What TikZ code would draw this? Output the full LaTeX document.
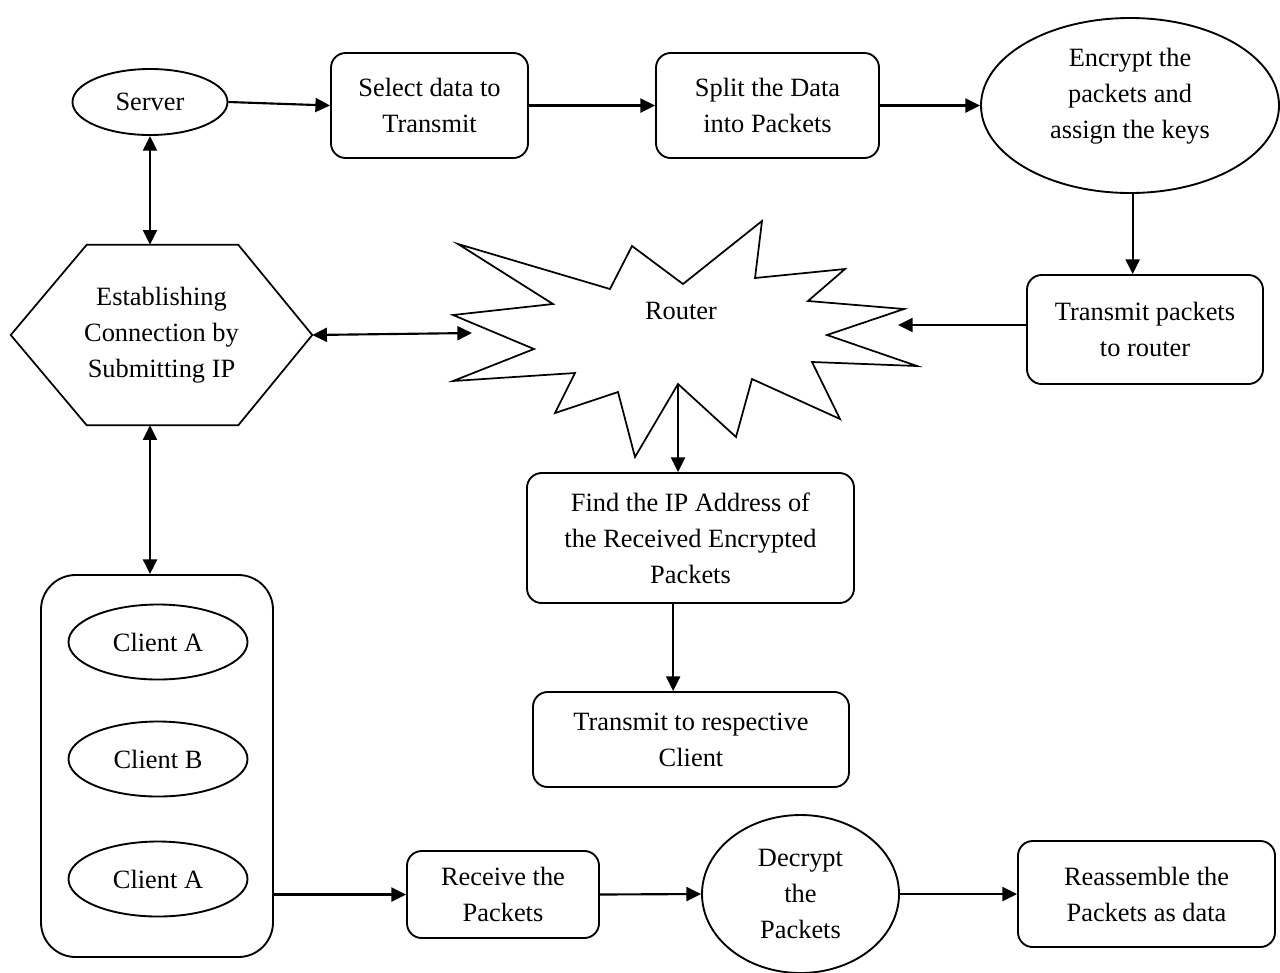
\documentclass[tikz,border=0pt]{standalone}
\usepackage{fontspec}
\setmainfont{Liberation Serif}
\usetikzlibrary{arrows.meta,shapes.geometric}
\begin{document}
\begin{tikzpicture}[x=0.75pt,y=-0.75pt,
  every node/.style={font=\fontsize{19.8pt}{27pt}\selectfont, align=center, inner sep=0pt},
  box/.style={draw, line width=1.4pt, rounded corners=11pt},
  oval/.style={draw, ellipse, line width=1.4pt},
  shapeline/.style={line width=1.3pt, line join=miter},
  tip/.style={Triangle[length=11pt,width=10.5pt]},
  arr/.style={line width=1.6pt, -{Triangle[length=11pt,width=10.5pt]}},
  darr/.style={line width=1.6pt, {Triangle[length=11pt,width=10.5pt]}-{Triangle[length=11pt,width=10.5pt]}},
]
\useasboundingbox (0,0) rectangle (1280,972);

% top row
\node[oval, minimum width=116.25pt, minimum height=49.5pt] (server) at (150,102) {Server};
\node[box, minimum width=147.75pt, minimum height=78.75pt] (select) at (429.5,105.5) {Select data to\\Transmit};
\node[box, minimum width=167.25pt, minimum height=78.75pt] (split) at (767.5,105.5) {Split the Data\\into Packets};
\node[oval, minimum width=223.5pt, minimum height=131.25pt] (encrypt) at (1130,105.5) {};
\node (encrypttext) at (1130,96) {Encrypt the\\packets and\\assign the keys};
\node[box, minimum width=177pt, minimum height=81.75pt] (tpk) at (1145,329.5) {Transmit packets\\to router};

% hexagon
\node[minimum width=225.75pt, minimum height=135pt] (hex) at (161.5,335) {Establishing\\Connection by\\Submitting IP};
\draw[shapeline] (hex.west) -- ([xshift=57pt]hex.north west) -- ([xshift=-55.5pt]hex.north east)
  -- (hex.east) -- ([xshift=-55.5pt]hex.south east) -- ([xshift=57pt]hex.south west) -- cycle;

% router star
\draw[shapeline] (458,244) -- (553,304) -- (453,315) -- (534,349) -- (453,381) -- (575,373)
  -- (555,413) -- (618,392) -- (635,457) -- (678,384) -- (736,437) -- (752,379)
  -- (840,419) -- (812,362) -- (917,366) -- (827,335) -- (904,309) -- (808,301)
  -- (845,269) -- (755,278) -- (762,221) -- (683,284) -- (632,246) -- (610,289) -- cycle;
\node (router) at (681,311) {Router};
\coordinate (routerW) at (472,333);
\coordinate (routerE) at (898,325);
\coordinate (routerS) at (678,384);

% middle
\node[box, minimum width=245.25pt, minimum height=97.5pt] (findip) at (690.5,538) {Find the IP Address of\\the Received Encrypted\\Packets};
\node[box, minimum width=237pt, minimum height=71.25pt] (tresp) at (691,739.5) {Transmit to respective\\Client};

% clients
\node[draw, line width=1.4pt, rounded corners=26pt, minimum width=174pt, minimum height=286.5pt] (clients) at (157,766) {};
\node[oval, minimum width=134.25pt, minimum height=56.25pt] (ca) at (158,642) {Client A};
\node[oval, minimum width=134.25pt, minimum height=56.25pt] (cb) at (158,759) {Client B};
\node[oval, minimum width=134.25pt, minimum height=56.25pt] (ca2) at (158,879) {Client A};

% bottom row
\node[box, minimum width=144pt, minimum height=65.25pt] (receive) at (503,894.5) {Receive the\\Packets};
\node[oval, minimum width=147.75pt, minimum height=118.5pt] (decrypt) at (800.5,894) {Decrypt\\the\\Packets};
\node[box, minimum width=192.75pt, minimum height=79.5pt] (reasm) at (1146.5,894) {Reassemble the\\Packets as data};

% connectors
\draw[arr] (server.east) -- (select.west);
\draw[arr] (select.east) -- (split.west);
\draw[arr] (split.east) -- (encrypt.west);
\draw[arr] ([xshift=2pt]encrypt.south) -- ([xshift=2pt]encrypt.south |- tpk.north);
\draw[arr] (tpk.west |- routerE) -- (routerE);
\draw[darr] (server.south) -- (server.south |- hex.north);
\draw[darr] (hex.east) -- (routerW);
\draw[darr] (server.south |- hex.south) -- (server.south |- clients.north);
\draw[arr] (routerS) -- (routerS |- findip.north);
\draw[arr] ([xshift=-13pt]findip.south) -- ([xshift=-13pt]findip.south |- tresp.north);
\draw[arr] (clients.east |- receive.west) -- (receive.west);
\draw[arr] (receive.east) -- (decrypt.west);
\draw[arr] (decrypt.east) -- (reasm.west);
\end{tikzpicture}
\end{document}
